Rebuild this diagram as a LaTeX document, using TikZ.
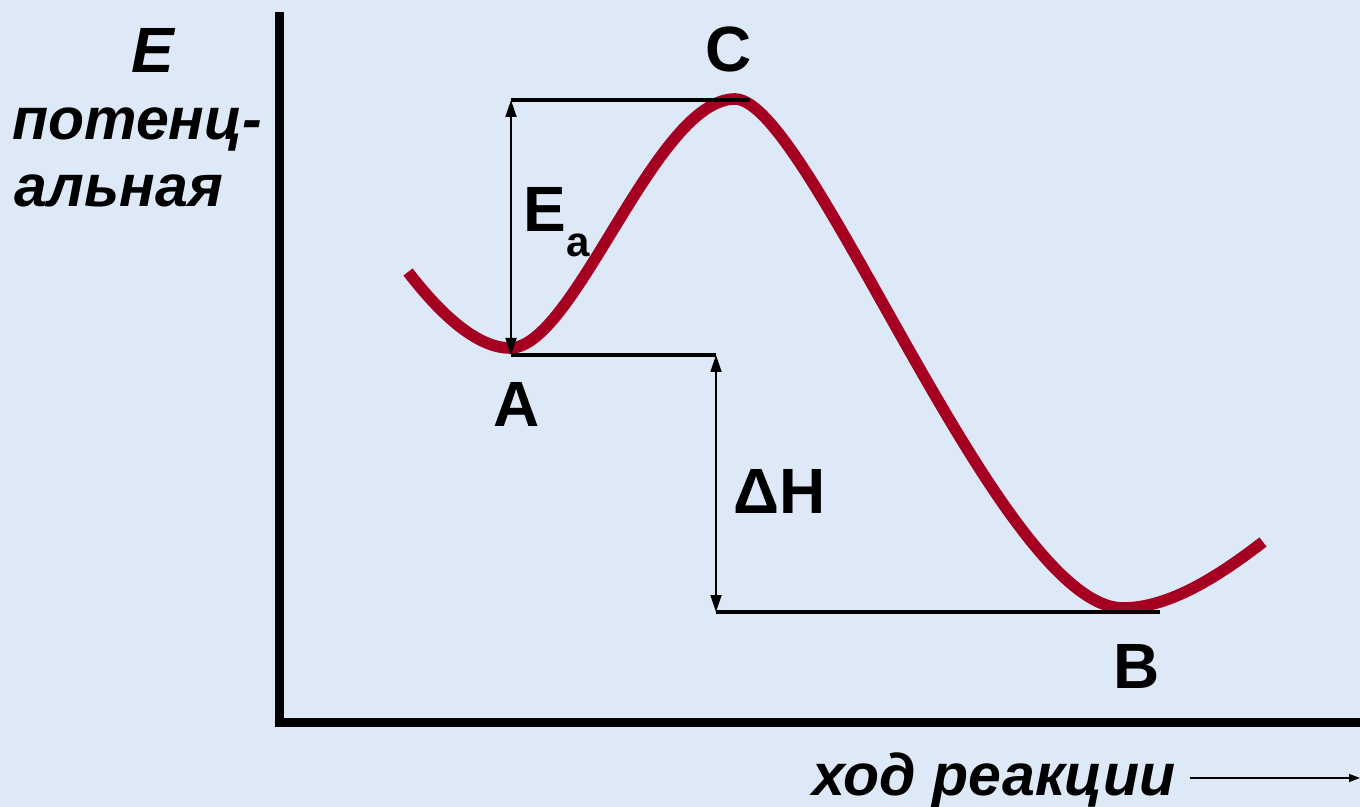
\documentclass[tikz,border=0pt]{standalone}
\usepackage{fontspec}
\setmainfont{Liberation Sans}
\usetikzlibrary{arrows.meta}
\definecolor{bgblue}{RGB}{221,233,246}
\definecolor{curvered}{RGB}{165,0,33}

\begin{document}
\begin{tikzpicture}[x=0.5pt,y=-0.5pt,
    lbl/.style={inner sep=0pt, anchor=base, font=\fontsize{32}{36}\selectfont\bfseries},
    axlbl/.style={inner sep=0pt, anchor=base west, font=\fontsize{29.5}{34}\selectfont\bfseries\itshape},
    level/.style={line width=1.7pt},
    dimarrow/.style={line width=0.9pt, {Triangle[length=8.5pt,width=5.5pt]}-{Triangle[length=8.5pt,width=5.5pt]}}]
  \fill[bgblue] (0,0) rectangle (1360,807);
  \useasboundingbox (0,0) rectangle (1360,807);
  % axes
  \coordinate (ytop) at (279.5,12);
  \coordinate (origin) at (279.5,722);
  \coordinate (xright) at (1360,722);
  \draw[line width=4.5pt, line join=miter] (ytop) -- (origin) -- (xright);
  % energy curve
  \coordinate (start) at (408,272);
  \coordinate (minA) at (510,348);
  \coordinate (topC) at (735,99);
  \coordinate (minB) at (1123,608);
  \coordinate (stop) at (1263,542);
  \draw[curvered, line width=5.8pt, line cap=butt]
    (start) .. controls (445,320) and (480,348) .. (minA)
            .. controls (575,348) and (655,99) .. (topC)
            .. controls (810,99) and (1000,608) .. (minB)
            .. controls (1170,608) and (1220,575) .. (stop);
  % levels
  \coordinate (ctop) at (511,100);
  \coordinate (cend) at (750,100);
  \coordinate (abot) at (511,355);
  \coordinate (aend) at (716,355);
  \coordinate (bbot) at (716,612);
  \coordinate (bend) at (1160,612);
  \draw[level] (ctop) -- (cend);
  \draw[level] (abot) -- (aend);
  \draw[level] (bbot) -- (bend);
  \draw[dimarrow] (ctop) -- (abot);
  \draw[dimarrow] (aend) -- (bbot);
  % labels
  \node[lbl] (C) at (729,72) {C};
  \node[lbl] (A) at (517,427) {A};
  \node[lbl] (B) at (1137,688) {B};
  \node[lbl] (dH) at (780,513) {ΔH};
  \node[lbl, anchor=base west] (Ea) at (523,232) {E\raisebox{-12.5pt}{\fontsize{21}{24}\selectfont a}};
  \node[axlbl, anchor=base, font=\fontsize{32}{36}\selectfont\bfseries\itshape] (E) at (153,73) {E};
  \node[axlbl] (pot1) at (12,140) {потенц-};
  \node[axlbl] (pot2) at (14,207) {альная};
  \node[axlbl] (xlabel) at (812,795) {ход реакции};
  \coordinate (xstart) at (1190,778);
  \coordinate (xend) at (1360,778);
  \draw[line width=0.7pt, -{Triangle[length=5.5pt,width=4pt]}] (xstart) -- (xend);
\end{tikzpicture}
\end{document}
